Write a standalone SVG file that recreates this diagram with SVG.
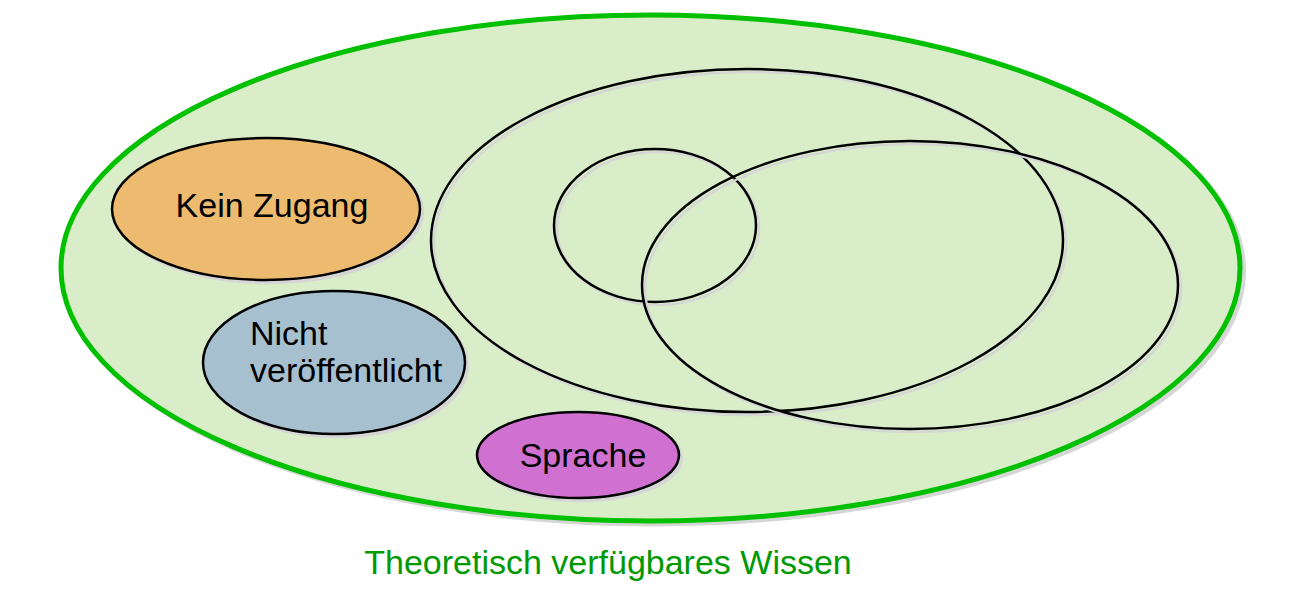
<svg xmlns="http://www.w3.org/2000/svg" width="1300" height="598" viewBox="0 0 1300 598">
<style>
.sh{fill:#d6d6d6;stroke:#d6d6d6;stroke-width:2.5}
.shl{fill:none;stroke:#d6d6d6;stroke-width:2.5}
.ol{stroke:#000;stroke-width:2.5}
.t{font-family:"Liberation Sans",Arial,sans-serif;font-size:34px;fill:#000}
</style>
<rect width="1300" height="598" fill="#fff"/>
<g id="wissen">
<ellipse cx="654" cy="271" rx="589.5" ry="253" fill="#d6d6d6" stroke="#d6d6d6" stroke-width="5"/>
<ellipse cx="650.5" cy="268" rx="589.5" ry="253" fill="#d9edc8" stroke="#00c000" stroke-width="5"/>
<text x="608" y="574" text-anchor="middle" class="t" style="fill:#009900">Theoretisch verfügbares Wissen</text>
</g>
<g id="kein-zugang">
<ellipse class="sh" cx="269" cy="212" rx="154" ry="71"/>
<ellipse class="ol" cx="266" cy="209" rx="154" ry="71" fill="#edbb6f"/>
<text x="272" y="217" text-anchor="middle" class="t">Kein Zugang</text>
</g>
<g id="nicht-veroeffentlicht">
<ellipse class="sh" cx="337" cy="365.5" rx="131" ry="71.5"/>
<ellipse class="ol" cx="334" cy="362.5" rx="131" ry="71.5" fill="#a7c0d0"/>
<text x="250" y="345" class="t">Nicht</text>
<text x="250" y="382" class="t">veröffentlicht</text>
</g>
<g id="sprache">
<ellipse class="sh" cx="581" cy="458" rx="101" ry="43"/>
<ellipse class="ol" cx="578" cy="455" rx="101" ry="43" fill="#d070d0"/>
<text x="583" y="467" text-anchor="middle" class="t">Sprache</text>
</g>
<g id="menge-a">
<ellipse class="shl" cx="750" cy="243.5" rx="316" ry="171.5"/>
<ellipse class="ol" cx="747" cy="240.5" rx="316" ry="171.5" fill="none"/>
</g>
<g id="menge-b">
<ellipse class="shl" cx="658" cy="228.5" rx="101" ry="76.5"/>
<ellipse class="ol" cx="655" cy="225.5" rx="101" ry="76.5" fill="none"/>
</g>
<g id="menge-c">
<ellipse class="shl" cx="913" cy="288" rx="268" ry="144"/>
<ellipse class="ol" cx="910" cy="285" rx="268" ry="144" fill="none"/>
</g>
<g id="connectors"/>
</svg>
